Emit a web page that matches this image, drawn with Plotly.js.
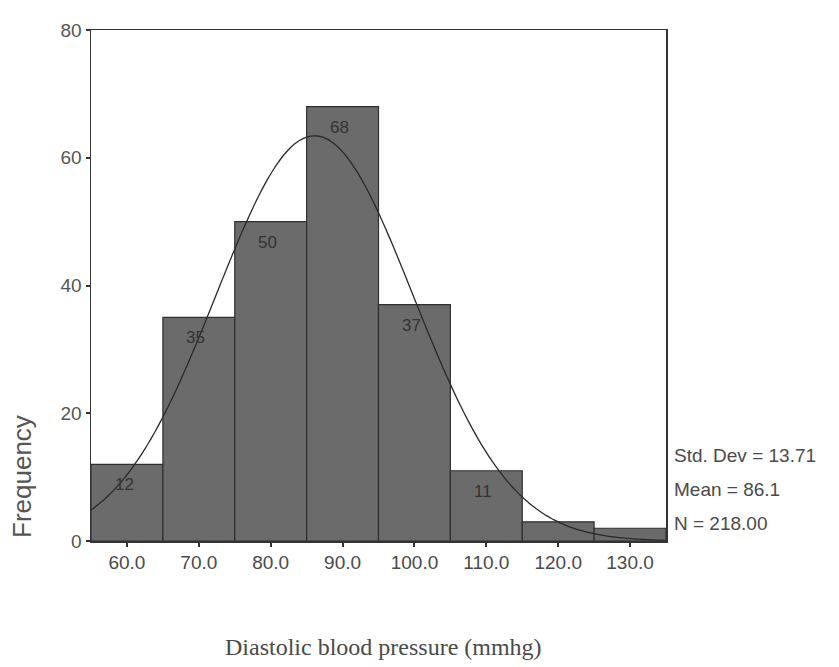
<!DOCTYPE html>
<html>
<head>
<meta charset="utf-8">
<script src="https://cdn.plot.ly/plotly-3.0.1.min.js"></script>
<style>
  html, body { margin: 0; padding: 0; background: #fff; }
  #chart { width: 839px; height: 667px; }
</style>
</head>
<body>
<div id="chart"></div>
<script>
// Diastolic blood pressure histogram (bin width 10 mmHg)
const binCenters = [60, 70, 80, 90, 100, 110, 120, 130];
const frequencies = [12, 35, 50, 68, 37, 11, 3, 2];
const tickValues = [60, 70, 80, 90, 100, 110, 120, 130];
const tickLabels = ["60.0", "70.0", "80.0", "90.0", "100.0", "110.0", "120.0", "130.0"];
const statStdDev = 13.71;
const statMean = 86.1;
const statN = 218;
const binWidth = 10;

// Normal curve defined by the reported mean and SD, scaled to counts
const curveX = [];
const curveY = [];
for (let x = 55; x <= 135.001; x += 0.5) {
  const z = (x - statMean) / statStdDev;
  curveX.push(x);
  curveY.push(statN * binWidth * Math.exp(-0.5 * z * z) / (statStdDev * Math.sqrt(2 * Math.PI)));
}

const greyText = '#4a4a4a';
const sans = 'Liberation Sans, Arial, sans-serif';

const bars = {
  type: 'bar',
  x: binCenters,
  y: frequencies,
  width: binWidth,
  marker: { color: '#6b6b6b', line: { color: '#2f2f2f', width: 1.2 } },
  hoverinfo: 'x+y'
};

const curve = {
  type: 'scatter',
  mode: 'lines',
  x: curveX,
  y: curveY,
  line: { color: '#2a2a2a', width: 1.3, shape: 'spline' },
  hoverinfo: 'skip'
};

// Pixel rows of the plotting area, used to place text outside it
const plotTop = 30, plotBottom = 541;
const rowToPaper = px => (plotBottom - px) / (plotBottom - plotTop);

// Count labels just inside the top of each bar
const annotations = [];
binCenters.forEach((c, i) => {
  if (frequencies[i] >= 5) {
    annotations.push({
      x: c - 0.4, y: frequencies[i], xref: 'x', yref: 'y',
      text: String(frequencies[i]), showarrow: false,
      yanchor: 'top', yshift: -9,
      font: { family: sans, size: 17, color: '#333' }
    });
  }
});

// Summary statistics to the right of the plot
const stats = ['Std. Dev = ' + statStdDev.toFixed(2), 'Mean = ' + statMean.toFixed(1), 'N = ' + statN.toFixed(2)];
stats.forEach((s, i) => {
  annotations.push({
    x: 1, xref: 'paper', xanchor: 'left', xshift: 6,
    y: rowToPaper(455 + i * 34), yref: 'paper',
    text: s, showarrow: false, yanchor: 'middle',
    font: { family: sans, size: 19, color: greyText }
  });
});

// Vertical axis label sits low beside the axis
annotations.push({
  x: 0, xref: 'paper', xanchor: 'center', xshift: -69,
  y: rowToPaper(477), yref: 'paper', yanchor: 'middle',
  text: 'Frequency', textangle: -90, showarrow: false,
  font: { family: sans, size: 26, color: '#555' }
});

// Horizontal axis label in a serif face
annotations.push({
  x: 0.5, xref: 'paper', xanchor: 'center', xshift: 5,
  y: rowToPaper(647), yref: 'paper', yanchor: 'middle',
  text: 'Diastolic blood pressure (mmhg)', showarrow: false,
  font: { family: 'Liberation Serif, Times New Roman, serif', size: 24, color: greyText }
});

const layout = {
  width: 839, height: 667,
  margin: { l: 91, r: 173, t: plotTop, b: 667 - plotBottom },
  paper_bgcolor: '#ffffff',
  plot_bgcolor: '#ffffff',
  showlegend: false,
  bargap: 0,
  font: { family: sans, color: greyText },
  xaxis: {
    range: [55, 135],
    tickvals: tickValues, ticktext: tickLabels,
    ticks: 'outside', ticklen: 4, tickwidth: 2, tickcolor: '#333',
    showgrid: false, zeroline: false,
    showline: true, linecolor: '#333', linewidth: 1.5, mirror: true,
    tickfont: { size: 19, color: greyText }
  },
  yaxis: {
    range: [0, 80],
    tickvals: [0, 20, 40, 60, 80],
    ticks: 'outside', ticklen: 4, tickwidth: 2, tickcolor: '#333',
    showgrid: false, zeroline: false,
    showline: true, linecolor: '#333', linewidth: 1.5, mirror: true,
    tickfont: { size: 19, color: '#555' }
  },
  annotations: annotations
};

Plotly.newPlot('chart', [bars, curve], layout, { displayModeBar: false, staticPlot: true });
</script>
</body>
</html>
